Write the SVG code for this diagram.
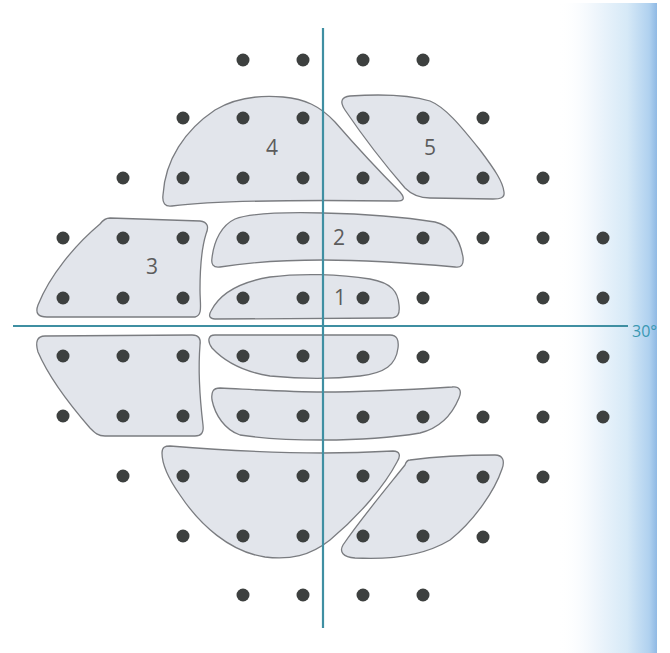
<svg xmlns="http://www.w3.org/2000/svg" width="670" height="653" viewBox="0 0 670 653">
<defs>
<linearGradient id="edge" x1="0" y1="0" x2="1" y2="0">
<stop offset="0" stop-color="#ffffff" stop-opacity="0"/>
<stop offset="0.35" stop-color="#f1f7fc"/>
<stop offset="0.7" stop-color="#d6e9f7"/>
<stop offset="0.92" stop-color="#b0d1ef"/>
<stop offset="1" stop-color="#8fb9e4"/>
</linearGradient>
<style>
.zone{fill:#e2e5eb;stroke:#7a7c80;stroke-width:1.3;stroke-linejoin:round}
.dot{fill:#3d403f}
.lbl{font-family:"Open Sans","Liberation Sans",sans-serif;font-size:21px;fill:#5c5c5c;text-anchor:middle}
.axis{stroke:#3f8fa2;stroke-width:2.2;fill:none}
.deg{font-family:"Open Sans","Liberation Sans",sans-serif;font-size:16px;fill:#3a98b2}
</style>
</defs>
<rect width="670" height="653" fill="#ffffff"/>
<rect x="558" y="3" width="99" height="650" fill="url(#edge)"/>

<g id="zone4"><path class="zone" d="M172,206 C165,207 162,203 163,195 C165,160 185,130 215,110 C235,98 260,95 283,97 C305,99 320,106 335,122 C355,145 380,172 400,192 C406,199 403,201 397,201 C320,200 220,200 172,206 Z"/><text class="lbl" x="272" y="155">4</text></g>
<g id="zone5"><path class="zone" d="M350,96 C380,94 410,95 430,101 C445,107 460,125 480,150 C495,170 503,182 504,192 C505,198 500,199 493,199 L430,198 C420,198 412,195 405,188 C385,165 362,135 345,110 C339,101 342,97 350,96 Z"/><text class="lbl" x="430" y="155">5</text></g>
<g id="zone3"><path class="zone" d="M110,218 L200,221 C208,222 209,227 206,234 C201,250 200,270 200,290 C200,305 203,315 195,317 L47,317 C38,317 35,313 38,305 C50,275 75,245 100,224 C103,220 106,218 110,218 Z"/><text class="lbl" x="152" y="274">3</text></g>
<g id="zone2"><path class="zone" d="M235,219 C250,213 280,212 323,213 C370,214 410,218 435,222 C452,226 460,240 463,257 C464,265 461,268 455,267 C410,263 370,260 323,260 C280,260 245,263 220,267 C213,268 211,264 212,258 C214,240 222,225 235,219 Z"/><text class="lbl" x="339" y="245">2</text></g>
<g id="zone1"><path class="zone" d="M215,319 C210,319 208,316 211,311 C220,293 240,282 270,277 C300,273 340,274 370,279 C392,283 398,292 399,305 C400,314 398,318 390,318 Z"/><text class="lbl" x="340" y="305">1</text></g>
<g id="zone3-lower"><path class="zone" d="M45,336 L192,335 C199,335 201,339 200,345 C198,370 200,400 203,425 C204,433 201,436 195,436 L105,436 C98,436 95,433 90,428 C70,405 50,380 38,352 C35,342 37,336 45,336 Z"/></g>
<g id="zone1-lower"><path class="zone" d="M215,335 L390,335 C397,335 399,340 398,348 C396,365 385,373 360,376 C335,379 300,379 270,376 C245,372 225,362 212,348 C207,341 208,335 215,335 Z"/></g>
<g id="zone2-lower"><path class="zone" d="M220,388 C260,390 290,392 323,392 C370,392 420,389 452,387 C460,386 462,391 459,398 C452,415 440,428 420,433 C390,438 360,440 323,440 C290,440 260,438 240,435 C225,430 215,415 212,400 C211,392 213,388 220,388 Z"/></g>
<g id="zone4-lower"><path class="zone" d="M170,446 C220,450 280,453 323,453 C350,453 375,452 393,451 C400,451 401,456 397,462 C385,485 360,515 330,540 C310,556 290,560 265,557 C230,552 200,525 180,495 C168,478 162,463 162,453 C162,447 165,446 170,446 Z"/></g>
<g id="zone5-lower"><path class="zone" d="M410,460 C440,456 470,455 495,455 C503,455 505,461 502,469 C495,490 475,520 450,540 C425,555 390,560 355,558 C343,557 339,552 343,545 C360,520 385,490 405,465 C406,462 408,460 410,460 Z"/></g>

<g id="points">
<circle class="dot" cx="243" cy="60" r="6.5"/><circle class="dot" cx="303" cy="60" r="6.5"/><circle class="dot" cx="363" cy="60" r="6.5"/><circle class="dot" cx="423" cy="60" r="6.5"/>
<circle class="dot" cx="183" cy="118" r="6.5"/><circle class="dot" cx="243" cy="118" r="6.5"/><circle class="dot" cx="303" cy="118" r="6.5"/><circle class="dot" cx="363" cy="118" r="6.5"/><circle class="dot" cx="423" cy="118" r="6.5"/><circle class="dot" cx="483" cy="118" r="6.5"/>
<circle class="dot" cx="123" cy="178" r="6.5"/><circle class="dot" cx="183" cy="178" r="6.5"/><circle class="dot" cx="243" cy="178" r="6.5"/><circle class="dot" cx="303" cy="178" r="6.5"/><circle class="dot" cx="363" cy="178" r="6.5"/><circle class="dot" cx="423" cy="178" r="6.5"/><circle class="dot" cx="483" cy="178" r="6.5"/><circle class="dot" cx="543" cy="178" r="6.5"/>
<circle class="dot" cx="63" cy="238" r="6.5"/><circle class="dot" cx="123" cy="238" r="6.5"/><circle class="dot" cx="183" cy="238" r="6.5"/><circle class="dot" cx="243" cy="238" r="6.5"/><circle class="dot" cx="303" cy="238" r="6.5"/><circle class="dot" cx="363" cy="238" r="6.5"/><circle class="dot" cx="423" cy="238" r="6.5"/><circle class="dot" cx="483" cy="238" r="6.5"/><circle class="dot" cx="543" cy="238" r="6.5"/><circle class="dot" cx="603" cy="238" r="6.5"/>
<circle class="dot" cx="63" cy="298" r="6.5"/><circle class="dot" cx="123" cy="298" r="6.5"/><circle class="dot" cx="183" cy="298" r="6.5"/><circle class="dot" cx="243" cy="298" r="6.5"/><circle class="dot" cx="303" cy="298" r="6.5"/><circle class="dot" cx="363" cy="298" r="6.5"/><circle class="dot" cx="423" cy="298" r="6.5"/><circle class="dot" cx="543" cy="298" r="6.5"/><circle class="dot" cx="603" cy="298" r="6.5"/>
<circle class="dot" cx="63" cy="356" r="6.5"/><circle class="dot" cx="123" cy="356" r="6.5"/><circle class="dot" cx="183" cy="356" r="6.5"/><circle class="dot" cx="243" cy="356" r="6.5"/><circle class="dot" cx="303" cy="356" r="6.5"/><circle class="dot" cx="363" cy="357" r="6.5"/><circle class="dot" cx="423" cy="357" r="6.5"/><circle class="dot" cx="543" cy="357" r="6.5"/><circle class="dot" cx="603" cy="357" r="6.5"/>
<circle class="dot" cx="63" cy="416" r="6.5"/><circle class="dot" cx="123" cy="416" r="6.5"/><circle class="dot" cx="183" cy="416" r="6.5"/><circle class="dot" cx="243" cy="416" r="6.5"/><circle class="dot" cx="303" cy="416" r="6.5"/><circle class="dot" cx="363" cy="417" r="6.5"/><circle class="dot" cx="423" cy="417" r="6.5"/><circle class="dot" cx="483" cy="417" r="6.5"/><circle class="dot" cx="543" cy="417" r="6.5"/><circle class="dot" cx="603" cy="417" r="6.5"/>
<circle class="dot" cx="123" cy="476" r="6.5"/><circle class="dot" cx="183" cy="476" r="6.5"/><circle class="dot" cx="243" cy="476" r="6.5"/><circle class="dot" cx="303" cy="476" r="6.5"/><circle class="dot" cx="363" cy="476" r="6.5"/><circle class="dot" cx="423" cy="477" r="6.5"/><circle class="dot" cx="483" cy="477" r="6.5"/><circle class="dot" cx="543" cy="477" r="6.5"/>
<circle class="dot" cx="183" cy="536" r="6.5"/><circle class="dot" cx="243" cy="536" r="6.5"/><circle class="dot" cx="303" cy="536" r="6.5"/><circle class="dot" cx="363" cy="536" r="6.5"/><circle class="dot" cx="423" cy="536" r="6.5"/><circle class="dot" cx="483" cy="537" r="6.5"/>
<circle class="dot" cx="243" cy="595" r="6.5"/><circle class="dot" cx="303" cy="595" r="6.5"/><circle class="dot" cx="363" cy="595" r="6.5"/><circle class="dot" cx="423" cy="595" r="6.5"/>
</g>

<g id="axes">
<line class="axis" x1="323" y1="28" x2="323" y2="628"/>
<line class="axis" x1="13" y1="326" x2="628" y2="326"/>
<text class="deg" x="632" y="337">30°</text>
</g>
</svg>
